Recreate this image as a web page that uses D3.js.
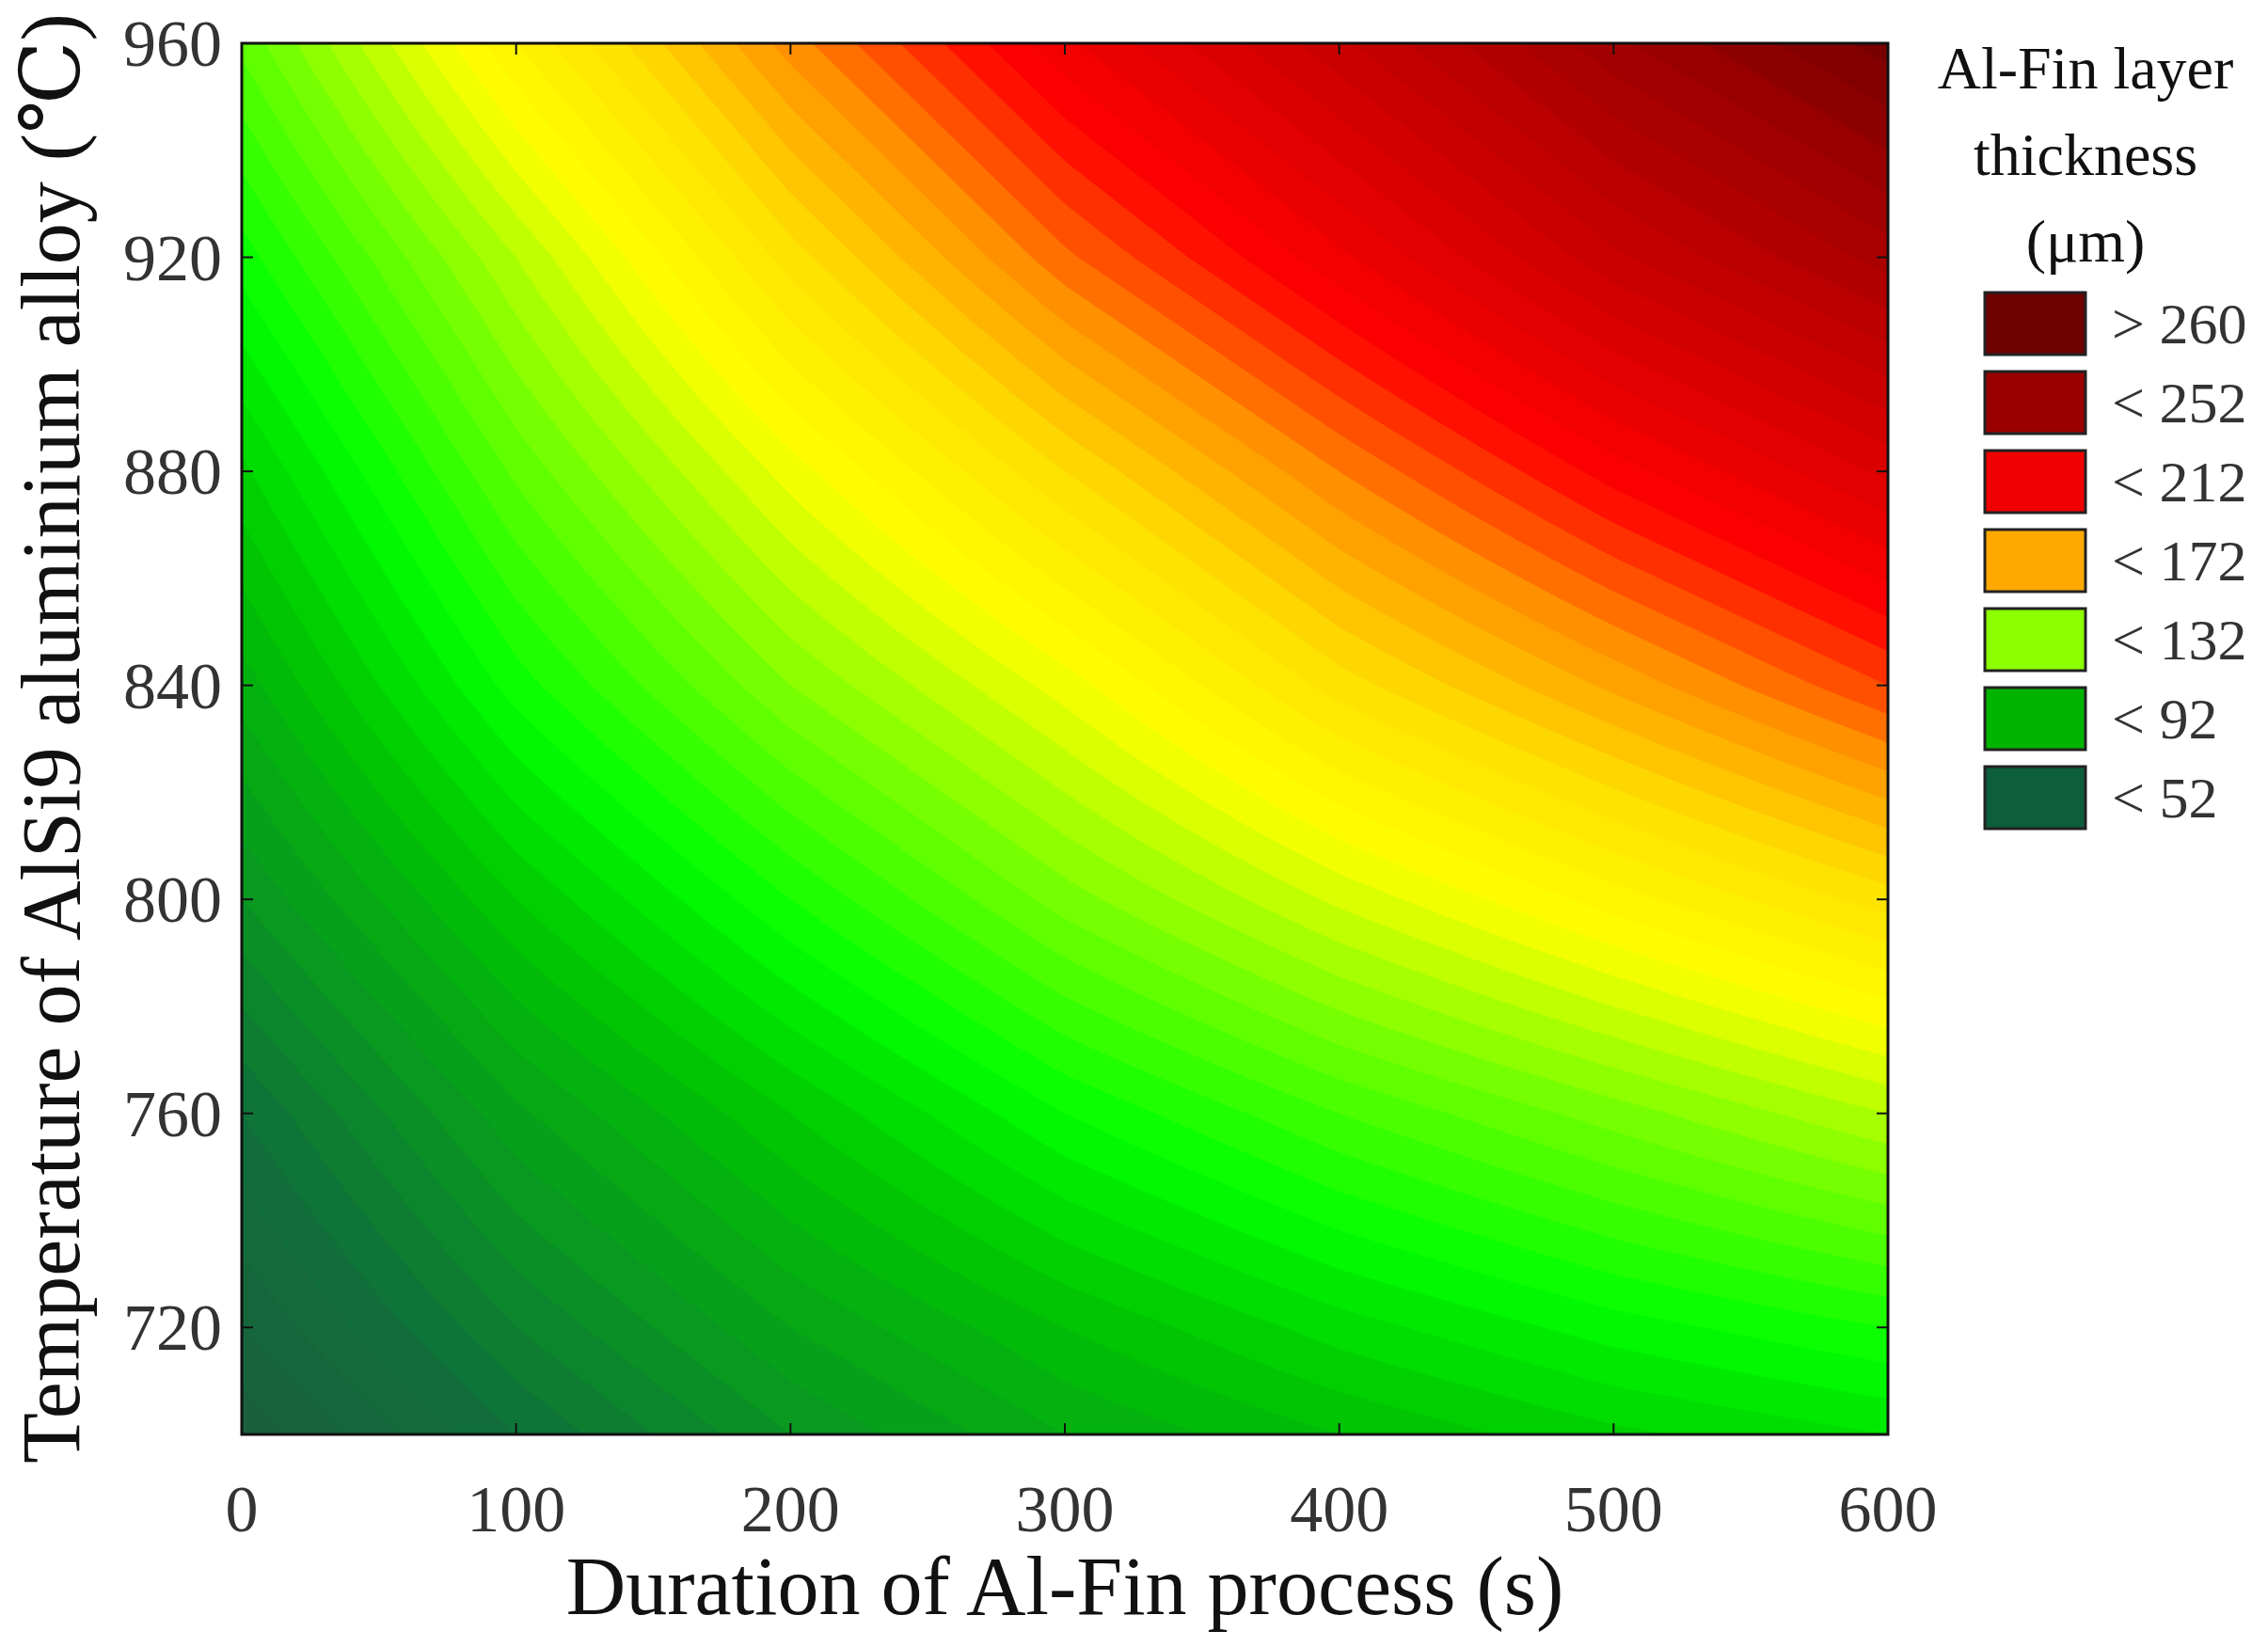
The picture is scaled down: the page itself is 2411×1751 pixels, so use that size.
<!DOCTYPE html>
<html><head><meta charset="utf-8">
<script src="https://cdn.jsdelivr.net/npm/d3@7"></script>
<style>body{margin:0;background:#fff}</style></head>
<body><svg id="c" width="2411" height="1751"></svg>
<script>
const durations=[0,100,200,300,400,500,600];
const temps=[700,720,760,800,840,880,920,960];
// thickness values (µm), rows follow temps, columns follow durations
const thickness=[
 [33,52,68,80,88,95,100],
 [40,60,76,88,98,106,112],
 [52,75,92,108,120,130,140],
 [68,92,112,130,145,158,170],
 [82,110,132,150,170,185,200],
 [95,125,150,172,192,210,225],
 [110,140,170,195,215,235,250],
 [125,160,190,215,235,255,270]
];
const xTicks=[0,100,200,300,400,500,600];
const yTicks=[720,760,800,840,880,920,960];
const legendLabels=["> 260","< 252","< 212","< 172","< 132","< 92","< 52"];
const legendColors=["#6e0000","#9a0000","#f00000","#ffa800","#8cff00","#00b400","#0d5e3c"];
const colorStops=[30,52,92,108,132,152,172,190,208,255,275];
const colorVals=["#1d5b3c","#10703a","#00c800","#00ff00","#80ff00","#ffff00","#ffe000","#ff9000","#ff0000","#a00000","#6a0000"];

const svg=d3.select("#c");
const L=257,R=2007,T=46,B=1525;
const x=d3.scaleLinear().domain([0,600]).range([L,R]);
const y=d3.scaleLinear().domain([700,960]).range([B,T]);
const color=d3.scaleLinear().domain(colorStops).range(colorVals).clamp(true);

const nx=200,ny=170;
const tx=d3.scaleLinear().domain(durations).range(d3.range(durations.length));
const ty=d3.scaleLinear().domain(temps).range(d3.range(temps.length));
function val(t,te){
  const fi=tx(t),fj=ty(te);
  const i=Math.min(Math.floor(fi),durations.length-2),j=Math.min(Math.floor(fj),temps.length-2);
  const a=fi-i,b=fj-j;
  return (1-a)*(1-b)*thickness[j][i]+a*(1-b)*thickness[j][i+1]+(1-a)*b*thickness[j+1][i]+a*b*thickness[j+1][i+1];
}
const grid=new Array(nx*ny);
for(let r=0;r<ny;r++)for(let c=0;c<nx;c++){
  const t=600*c/(nx-1), te=960-260*r/(ny-1);
  grid[r*nx+c]=val(t,te);
}
const thr=d3.range(20,290,4);
const contours=d3.contours().size([nx,ny]).thresholds(thr)(grid);
const sx=(R-L)/(nx-1), sy=(B-T)/(ny-1);
const proj=d3.geoTransform({point:function(px,py){this.stream.point(L+(px-0.5)*sx,T+(py-0.5)*sy);}});
const path=d3.geoPath(proj);
svg.append("defs").append("clipPath").attr("id","cp").append("rect").attr("x",L).attr("y",T).attr("width",R-L).attr("height",B-T);
svg.append("g").attr("clip-path","url(#cp)").selectAll("path").data(contours).join("path")
  .attr("d",path).attr("fill",d=>color(d.value+2)).attr("stroke",d=>color(d.value+2)).attr("stroke-width",0.5);

svg.append("rect").attr("x",L).attr("y",T).attr("width",R-L).attr("height",B-T).attr("fill","none").attr("stroke","#111").attr("stroke-width",3);
const ff="Liberation Serif, DejaVu Serif, serif";
const g=svg.append("g").attr("font-family",ff).attr("fill","#333");
xTicks.forEach(v=>{
  g.append("text").attr("x",x(v)).attr("y",1628).attr("text-anchor","middle").attr("font-size",70).text(v);
  svg.append("line").attr("x1",x(v)).attr("x2",x(v)).attr("y1",B).attr("y2",B-12).attr("stroke","#111").attr("stroke-width",2);
  svg.append("line").attr("x1",x(v)).attr("x2",x(v)).attr("y1",T).attr("y2",T+12).attr("stroke","#111").attr("stroke-width",2);
});
yTicks.forEach(v=>{
  g.append("text").attr("x",236).attr("y",y(v)+24).attr("text-anchor","end").attr("font-size",70).text(v);
  svg.append("line").attr("x1",L).attr("x2",L+12).attr("y1",y(v)).attr("y2",y(v)).attr("stroke","#111").attr("stroke-width",2);
  svg.append("line").attr("x1",R).attr("x2",R-12).attr("y1",y(v)).attr("y2",y(v)).attr("stroke","#111").attr("stroke-width",2);
});
g.append("text").attr("x",1132).attr("y",1716).attr("text-anchor","middle").attr("font-size",88).attr("fill","#111").text("Duration of Al-Fin process (s)");
g.append("text").attr("transform","translate(84,785) rotate(-90)").attr("text-anchor","middle").attr("font-size",88).attr("fill","#111").text("Temperature of AlSi9 aluminium alloy (\u2103)");
["Al-Fin layer","thickness","(\u03bcm)"].forEach((s,i)=>g.append("text").attr("x",2217).attr("y",94+i*92).attr("text-anchor","middle").attr("font-size",64).attr("fill","#111").text(s));
legendLabels.forEach((s,i)=>{
  const yy=311+i*84;
  svg.append("rect").attr("x",2110).attr("y",yy).attr("width",107).attr("height",66).attr("fill",legendColors[i]).attr("stroke","#222").attr("stroke-width",3);
  g.append("text").attr("x",2245).attr("y",yy+54).attr("font-size",62).text(s);
});
</script></body></html>
